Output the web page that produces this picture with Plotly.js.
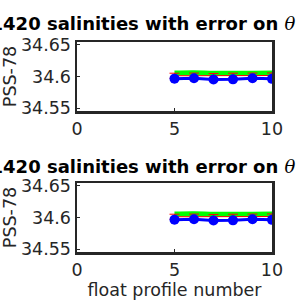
<!DOCTYPE html>
<html><head><meta charset="utf-8">
<script src="https://cdn.plot.ly/plotly-3.0.1.min.js"></script>
<style>html,body{margin:0;padding:0;background:#fff}#c{width:300px;height:300px}</style>
</head><body><div id="c"></div>
<script>
const profiles = [5, 6, 7, 8, 9, 10];
const greenSal = [34.6056, 34.6060, 34.6052, 34.6052, 34.6053, 34.6054];
const redSal = [34.6012, 34.6014, 34.6008, 34.6012, 34.6014, 34.6016];
const redErr = [0.0040, 0.0040, 0.0040, 0.0040, 0.0040, 0.0040];
const blueSal = [34.5966, 34.5972, 34.5953, 34.5955, 34.5972, 34.5963];
const yTicks = [34.55, 34.6, 34.65];
const yTickText = ['34.55', '34.6', '34.65'];
const xTicks = [0, 5, 10];
const titleText = '<b>3901420 salinities with error on </b><span style="font-family:DejaVu Serif">' + '<i>θ</i></span>';

const dark = '#262626';
const F = 'DejaVu Sans, sans-serif';
function tracesFor(xa, ya) {
  return [
    {x: profiles, y: greenSal, xaxis: xa, yaxis: ya, mode: 'lines', line: {color: '#00ff00', width: 5, shape: 'spline'}, hoverinfo: 'skip'},
    {x: profiles, y: redSal, xaxis: xa, yaxis: ya, mode: 'lines', line: {color: '#ff0000', width: 1},
     error_y: {type: 'data', array: redErr, visible: true, color: '#ff0000', thickness: 1, width: 5}},
    {x: profiles, y: blueSal, xaxis: xa, yaxis: ya, mode: 'lines+markers', line: {color: '#0000ff', width: 3},
     marker: {color: '#0000ff', size: 10}}
  ];
}
const data = tracesFor('x', 'y').concat(tracesFor('x2', 'y2'));
function xax(anchor) {
  return {domain: [77/300, 272/300], range: [0, 10], anchor: anchor, tickvals: xTicks,
    ticks: 'inside', ticklen: 3, tickcolor: dark, showline: true, linecolor: dark, linewidth: 2.5, mirror: true,
    showgrid: false, zeroline: false, tickfont: {family: F, size: 17.5, color: dark}};
}
function yax(anchor, dom) {
  return {domain: dom, range: [34.5455, 34.6545], anchor: anchor, tickvals: yTicks, ticktext: yTickText,
    ticks: 'inside', ticklen: 3, tickcolor: dark, showline: true, linecolor: dark, linewidth: 2.5, mirror: true,
    showgrid: false, zeroline: false, tickfont: {family: F, size: 17.5, color: dark},
    title: {text: 'PSS-78', font: {family: F, size: 17.5, color: dark}, standoff: 2}};
}
const xa2 = xax('y2');
xa2.title = {text: 'float profile number', font: {family: F, size: 17.5, color: dark}, standoff: 0};
const layout = {
  width: 300, height: 300, margin: {l: 0, r: 0, t: 0, b: 0}, showlegend: false,
  paper_bgcolor: '#fff', plot_bgcolor: '#fff',
  xaxis: xax('y'), yaxis: yax('x', [1-111/300, 1-42/300]),
  xaxis2: xa2, yaxis2: yax('x2', [1-252/300, 1-183/300]),
  annotations: [
    {text: titleText, xref: 'paper', yref: 'paper', x: 298/300, y: 1-24/300,
     xanchor: 'right', yanchor: 'middle', showarrow: false, font: {family: F, size: 18, color: '#000'}},
    {text: titleText, xref: 'paper', yref: 'paper', x: 298/300, y: 1-166/300,
     xanchor: 'right', yanchor: 'middle', showarrow: false, font: {family: F, size: 18, color: '#000'}}
  ]
};
Plotly.newPlot('c', data, layout, {staticPlot: true, displayModeBar: false});
</script></body></html>
